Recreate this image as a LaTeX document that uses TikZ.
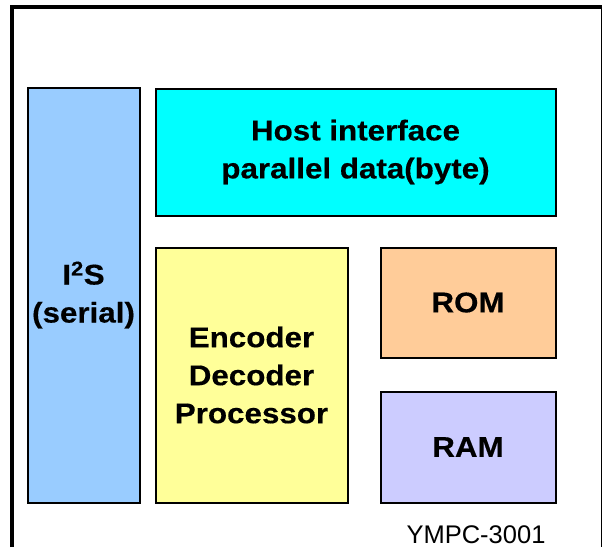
\documentclass[tikz,border=0pt]{standalone}
\usepackage{fontspec}
\setmainfont{Liberation Sans}
\newfontfamily\bfont[FakeStretch=1.1,FakeBold=0.4]{Liberation Sans Bold}
\definecolor{cI}{HTML}{99CCFF}
\definecolor{cHost}{HTML}{00FFFF}
\definecolor{cEnc}{HTML}{FFFF99}
\definecolor{cRom}{HTML}{FFCC99}
\definecolor{cRam}{HTML}{CCCCFF}
\tikzset{
  blk/.style={draw=black, line width=2pt, align=center, inner sep=0pt,
    font=\bfont\fontsize{28.5}{38}\selectfont},
}
\begin{document}
\begin{tikzpicture}[x=1pt,y=-1pt]
\useasboundingbox (0,0) rectangle (603,547);
% outer frame (open at bottom)
\coordinate (ob) at (11.5,547);
\coordinate (otl) at (11.5,7);
\coordinate (otr) at (601.5,7);
\coordinate (obr) at (601.5,547);
\draw[line width=4pt] (ob) -- (otl) -- (otr);
\draw[line width=1.5pt] (otr) -- (obr);
\node[blk, fill=cI, minimum width=112pt, minimum height=415pt] (i2s) at (83.5,295) {I\textsuperscript{2}S\\(serial)};
\node[blk, fill=cHost, minimum width=400pt, minimum height=127pt] (host) at (355.5,152) {Host interface\\parallel data(byte)};
\node[blk, fill=cEnc, minimum width=192pt, minimum height=255pt] (enc) at (251.5,375) {Encoder\\Decoder\\Processor};
\node[blk, fill=cRom, minimum width=175pt, minimum height=110pt] (rom) at (468,302.5) {ROM};
\node[blk, fill=cRam, minimum width=175pt, minimum height=111pt] (ram) at (468,447) {RAM};
\node[anchor=base, font=\fontsize{25.5}{30}\selectfont, inner sep=0pt] (lbl) at (476,543.5) {YMPC-3001};
\end{tikzpicture}
\end{document}
